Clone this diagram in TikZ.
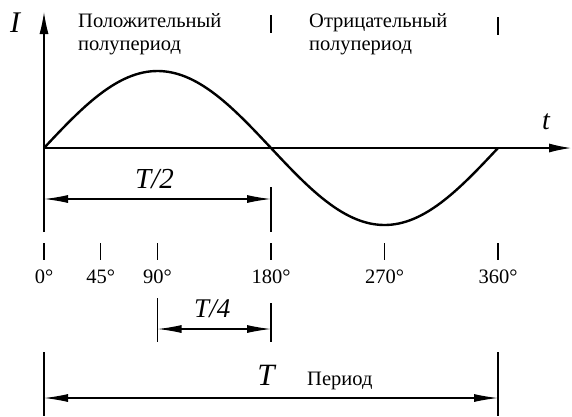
\documentclass[tikz,border=0pt]{standalone}
\usepackage{fontspec}
\setmainfont{Liberation Serif}
\usetikzlibrary{arrows.meta,positioning}

\tikzset{
  axis/.style={line width=1.2pt, -{Latex[length=22pt,width=9pt]}},
  dimline/.style={line width=1.2pt, {Latex[length=24pt,width=8pt]}-{Latex[length=24pt,width=8pt]}},
  extline/.style={line width=1.2pt},
  tickmark/.style={line width=1.2pt},
  lbl/.style={font=\fontsize{20.5}{23}\selectfont, inner sep=0pt},
  sym/.style={font=\fontsize{30}{30}\selectfont\itshape, inner sep=0pt},
}

\begin{document}
\begin{tikzpicture}[x=1pt,y=-1pt]
  \useasboundingbox (0,0) rectangle (572,416);
  % axes
  \coordinate (O) at (44,148);
  \coordinate (ybot) at (44,232);
  \coordinate (ytop) at (44,12);
  \coordinate (xend) at (571,148);
  \draw[axis] (ybot) -- (ytop);
  \draw[axis] (O) -- (xend);
  \node[sym] (Ilbl) at (15,23) {I};
  \node[sym, font=\fontsize{28}{28}\selectfont\itshape] (tlbl) at (546,122) {t};
  % sine
  \draw[line width=2.4pt] plot[domain=0:360, samples=120]
    ({44+\x*1.26111}, {148-77*sin(\x)});
  % half periods
  \node[lbl, anchor=north west, align=left] (pos) at (78,13) {Положительный\\полупериод};
  \node[lbl, anchor=north west, align=left] (neg) at (309,13) {Отрицательный\\полупериод};
  \draw[tickmark] (271,15) -- (271,33);
  \draw[tickmark] (498,17) -- (498,35);
  % T/2
  \coordinate (h0) at (44,199);
  \coordinate (h1) at (271,199);
  \draw[extline] (271,187) -- (271,232);
  \draw[dimline] (h0) -- node[sym, font=\fontsize{29}{29}\selectfont\itshape, above=10pt, xshift=-3pt] (half) {T/2} (h1);
  % degrees
  \foreach \a in {0,45,90,180,270,360} {
    \draw[tickmark] ({44+\a*1.26111},243) -- ++(0,17);
    \node[lbl] (deg\a) at ({44+\a*1.26111},277) {\a°};
  }
  % T/4
  \coordinate (q0) at (157.5,329);
  \coordinate (q1) at (271,329);
  \draw[extline] (157.5,298) -- (157.5,342);
  \draw[extline] (271,303) -- (271,342);
  \draw[dimline] (q0) -- node[sym, font=\fontsize{27}{27}\selectfont\itshape, above=11pt, xshift=-2pt] (quarter) {T/4} (q1);
  % T
  \coordinate (p0) at (44,398);
  \coordinate (p1) at (498,398);
  \draw[extline] (44,352) -- (44,416);
  \draw[extline] (498,352) -- (498,416);
  \draw[dimline] (p0) -- (p1);
  \node[sym, font=\fontsize{31}{31}\selectfont\itshape, anchor=base] (Tlbl) at (266,385) {T};
  \node[lbl, anchor=base west] (per) at (307,385) {Период};
\end{tikzpicture}
\end{document}
